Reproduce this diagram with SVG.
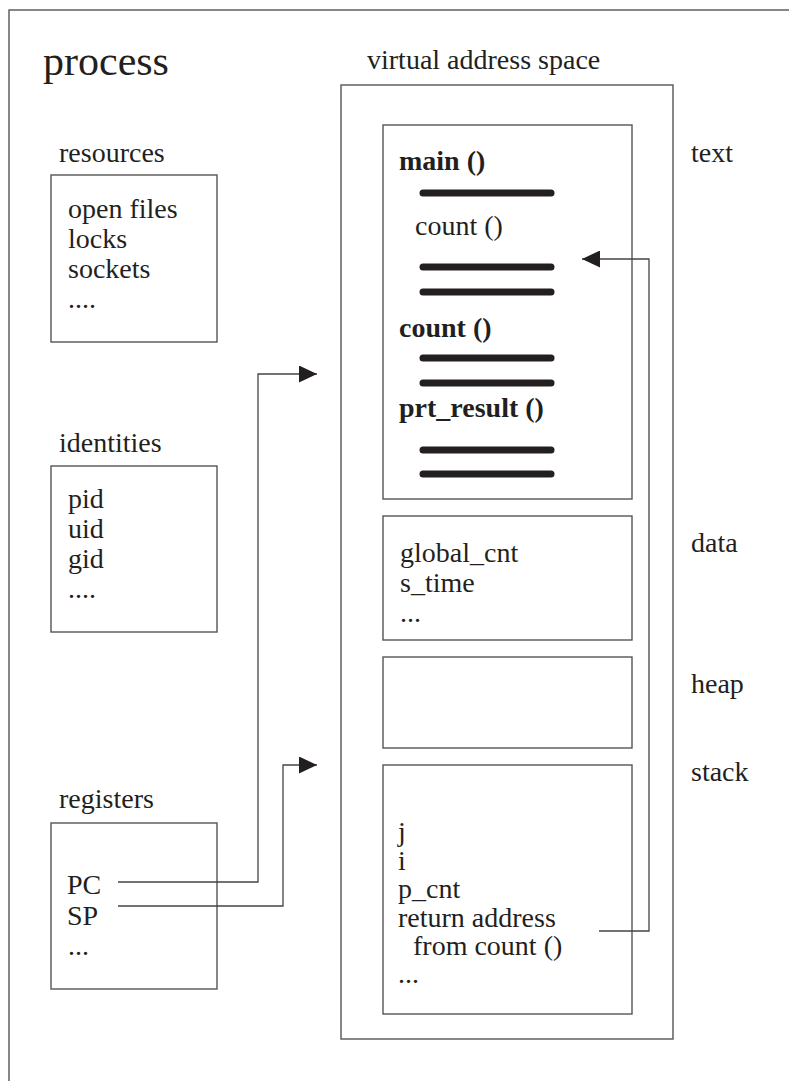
<svg xmlns="http://www.w3.org/2000/svg" width="789" height="1081" viewBox="0 0 789 1081">
<style>
text{font-family:"Liberation Serif","Times New Roman",serif;font-size:28px;fill:#231f20}
.b{font-weight:bold}
.big{font-size:42px}
.box{fill:none;stroke:#555;stroke-width:1.4}
.bar{stroke:#231f20;stroke-width:7;stroke-linecap:round}
.conn{fill:none;stroke:#444;stroke-width:1.3}
</style>
<defs>
<marker id="ah" viewBox="0 0 18 17" refX="18" refY="8.5" markerWidth="18" markerHeight="17" markerUnits="userSpaceOnUse" orient="auto">
<path d="M0,0 L18,8.5 L0,17 Z" fill="#231f20"/>
</marker>
</defs>
<rect x="0" y="0" width="789" height="1081" fill="#fff"/>
<g id="process">
<rect class="box" x="9" y="10" width="820" height="1120"/>
<text class="big" x="43" y="75">process</text>
</g>
<g id="resources">
<text x="59" y="162">resources</text>
<rect class="box" x="51" y="175" width="166" height="167"/>
<text x="68" y="218">open files</text>
<text x="68" y="248">locks</text>
<text x="68" y="278">sockets</text>
<text x="68" y="308">....</text>
</g>
<g id="identities">
<text x="59" y="452">identities</text>
<rect class="box" x="51" y="466" width="166" height="166"/>
<text x="68" y="508">pid</text>
<text x="68" y="538">uid</text>
<text x="68" y="568">gid</text>
<text x="68" y="598">....</text>
</g>
<g id="registers">
<text x="59" y="808">registers</text>
<rect class="box" x="51" y="823" width="166" height="166"/>
<text x="67" y="894">PC</text>
<text x="67" y="925">SP</text>
<text x="68" y="955">...</text>
</g>
<g id="vas">
<text x="367" y="69">virtual address space</text>
<rect class="box" x="341" y="85" width="332" height="954"/>
</g>
<g id="text-seg">
<rect class="box" x="383" y="125" width="249" height="374"/>
<text class="b" x="399" y="170">main ()</text>
<line class="bar" x1="423" y1="193" x2="551" y2="193"/>
<text x="415" y="235">count ()</text>
<line class="bar" x1="423" y1="267" x2="551" y2="267"/>
<line class="bar" x1="423" y1="292" x2="551" y2="292"/>
<text class="b" x="399" y="337">count ()</text>
<line class="bar" x1="423" y1="358" x2="551" y2="358"/>
<line class="bar" x1="423" y1="383" x2="551" y2="383"/>
<text class="b" x="399" y="417">prt_result ()</text>
<line class="bar" x1="423" y1="450" x2="551" y2="450"/>
<line class="bar" x1="423" y1="474" x2="551" y2="474"/>
<text x="691" y="162">text</text>
</g>
<g id="data-seg">
<rect class="box" x="383" y="516" width="249" height="124"/>
<text x="400" y="562">global_cnt</text>
<text x="400" y="592">s_time</text>
<text x="400" y="622">...</text>
<text x="691" y="552">data</text>
</g>
<g id="heap-seg">
<rect class="box" x="383" y="657" width="249" height="91"/>
<text x="691" y="693">heap</text>
</g>
<g id="stack-seg">
<rect class="box" x="383" y="765" width="249" height="249"/>
<text x="398" y="841">j</text>
<text x="398" y="870">i</text>
<text x="398" y="898">p_cnt</text>
<text x="398" y="927">return address</text>
<text x="413" y="955">from count ()</text>
<text x="398" y="983">...</text>
<text x="691" y="781">stack</text>
</g>
<g id="connectors">
<path class="conn" d="M118,882 H258 V374 H317" marker-end="url(#ah)"/>
<path class="conn" d="M118,906 H283 V765 H317" marker-end="url(#ah)"/>
<path class="conn" d="M599,931 H649 V259 H582" marker-end="url(#ah)"/>
</g>
</svg>
